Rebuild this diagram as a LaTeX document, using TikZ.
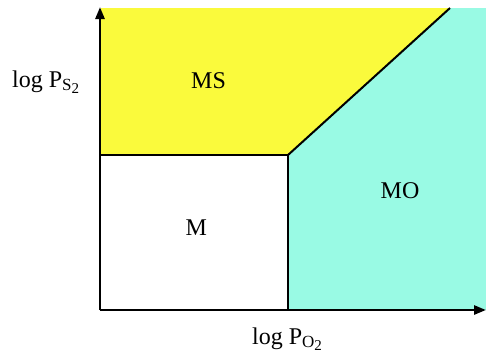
\documentclass[tikz,border=0pt]{standalone}
\usepackage{fontspec}
\setmainfont{Liberation Serif}
\usetikzlibrary{arrows.meta}
\definecolor{msyellow}{RGB}{250,250,60}
\definecolor{mocyan}{RGB}{153,250,228}
\newcommand{\psub}[2]{P\raisebox{-3.5pt}{\fontsize{17}{17}\selectfont #1\raisebox{-3pt}{\fontsize{15}{15}\selectfont #2}}}
\tikzset{
  axis/.style={line width=2.6pt,-{Triangle[length=12pt,width=9pt]}},
  border/.style={line width=2pt},
  region/.style={font=\fontsize{24}{28}\selectfont,inner sep=0pt,anchor=base west}
}
\begin{document}
\begin{tikzpicture}[x=1pt,y=-1pt]
\useasboundingbox (0,0) rectangle (486,357);
\coordinate (O) at (100,310);
\coordinate (Ytop) at (100,7);
\coordinate (Xend) at (486,310);
\coordinate (T) at (288,155);
\coordinate (D) at (450,8);
\coordinate (L) at (100,155);
\coordinate (B) at (288,310);
% phase fields
\fill[msyellow] (101,8) -- (D) -- (T) -- (101,155) -- cycle;
\fill[mocyan] (T) -- (D) -- (486,8) -- (486,310) -- (B) -- cycle;
% boundaries
\draw[border] (L) -- (T) -- (B);
\draw[border] (T) -- (D);
% axes
\draw[axis] (O) -- (Ytop);
\draw[axis] (O) -- (Xend);
\node[region] (ms) at (191,88) {MS};
\node[region] (mo) at (380.5,198) {MO};
\node[region] (m) at (185.5,235) {M};
\node[region] (ylab) at (12,87) {log \psub{S}{2}};
\node[region] (xlab) at (252,344) {log \psub{O}{2}};
\end{tikzpicture}
\end{document}
